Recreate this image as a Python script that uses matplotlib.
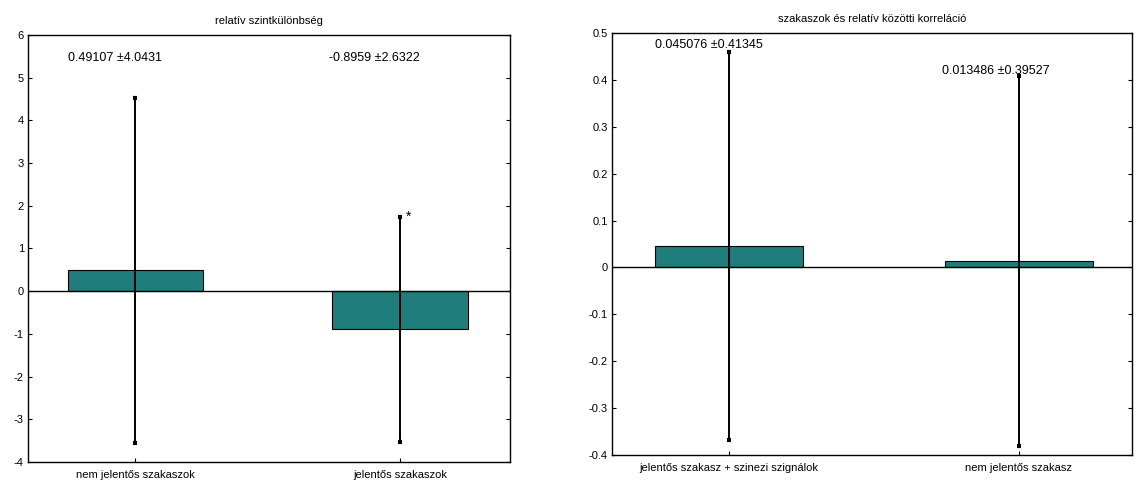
import matplotlib
matplotlib.use("Agg")
import matplotlib.pyplot as plt
import numpy as np

plt.rcParams['font.family'] = ['Liberation Sans', 'DejaVu Sans']

# Left chart data
left_title = "relatív szintkülönbség"
left_cats = ["nem jelentős szakaszok", "jelentős szakaszok"]
left_means = [0.49107, -0.8959]
left_sds = [4.0431, 2.6322]
left_labels = ["0.49107 ±4.0431", "-0.8959 ±2.6322"]
left_yticks = [-4, -3, -2, -1, 0, 1, 2, 3, 4, 5, 6]

# Right chart data
right_title = "szakaszok és relatív közötti korreláció"
right_cats = ["jelentős szakasz + szinezi szignálok", "nem jelentős szakasz"]
right_means = [0.045076, 0.013486]
right_sds = [0.41345, 0.39527]
right_labels = ["0.045076 ±0.41345", "0.013486 ±0.39527"]
right_yticks = [-0.4, -0.3, -0.2, -0.1, 0, 0.1, 0.2, 0.3, 0.4, 0.5]

bar_color = "#1f7d7b"

fig = plt.figure(figsize=(11.39, 4.95), dpi=100)
ax1 = fig.add_axes([0.0246, 0.0667, 0.4232, 0.8626])
ax2 = fig.add_axes([0.5373, 0.0808, 0.4565, 0.8525])

def draw(ax, cats, means, sds, labels, yticks, title, xlim, ylim, label_pos, ytl):
    x = np.arange(1, len(cats) + 1)
    ax.bar(x, means, width=0.51, color=bar_color, edgecolor="black", linewidth=0.8, zorder=2)
    ax.axhline(0, color="black", linewidth=1.0, zorder=3)
    ax.errorbar(x, means, yerr=sds, fmt="none", ecolor="black", elinewidth=1.4,
                capsize=1.5, capthick=3, zorder=4)
    ax.set_xlim(*xlim)
    ax.set_ylim(*ylim)
    ax.set_xticks(x)
    ax.set_xticklabels(cats, fontsize=8)
    ax.set_yticks(yticks)
    ax.set_yticklabels(ytl, fontsize=8)
    ax.tick_params(direction="in", length=3, right=True, top=False, pad=3)
    ax.tick_params(axis="x", length=3, pad=6)
    for s in ax.spines.values():
        s.set_linewidth(1.0)
    ax.set_title(title, fontsize=8, pad=8)
    for (tx, ty), lab in zip(label_pos, labels):
        ax.text(tx, ty, lab, fontsize=9, ha="left", va="center")

draw(ax1, left_cats, left_means, left_sds, left_labels, left_yticks, left_title,
     (0.596, 2.415), (-4, 6), [(0.745, 5.45), (1.73, 5.45)],
     [str(v) for v in left_yticks])
ax1.text(2.03, left_means[1] + left_sds[1], "*", fontsize=10, ha="center", va="center")

draw(ax2, right_cats, right_means, right_sds, right_labels, right_yticks, right_title,
     (0.597, 2.39), (-0.4, 0.5), [(0.745, 0.475), (1.735, 0.42)],
     ["0" if v == 0 else f"{v:g}" for v in right_yticks])

fig.savefig("out.png", dpi=100)
